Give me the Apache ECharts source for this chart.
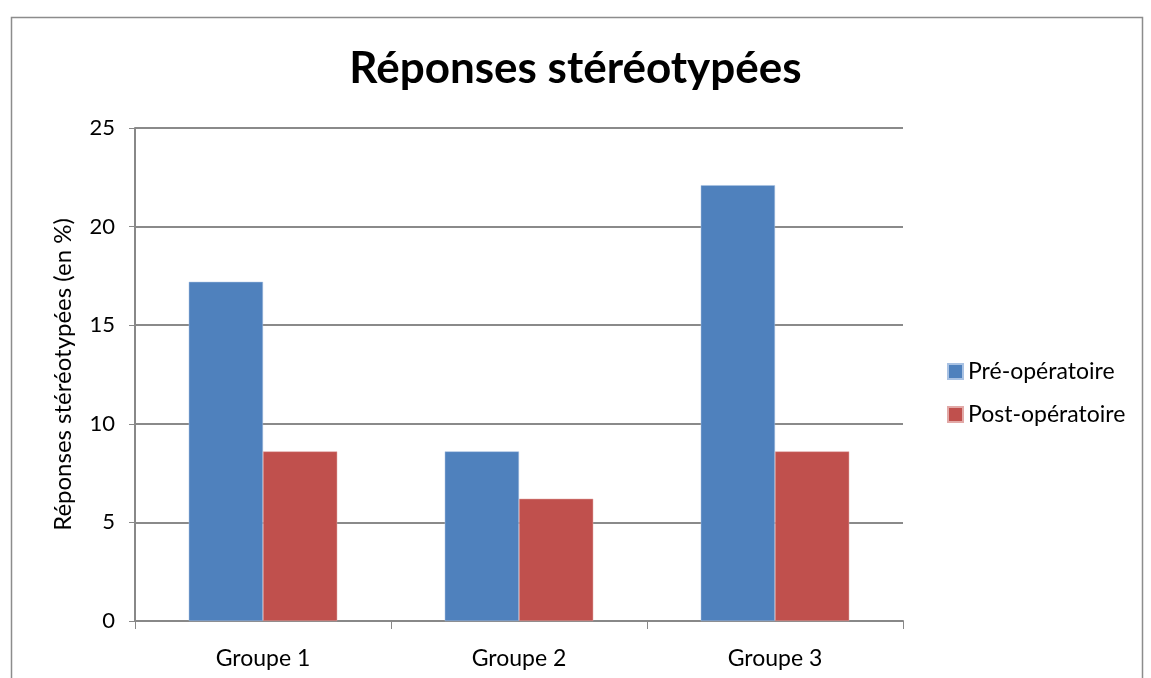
<!DOCTYPE html>
<html>
<head>
<meta charset="utf-8">
<title>Réponses stéréotypées</title>
<script src="https://cdn.jsdelivr.net/npm/echarts@6/dist/echarts.min.js"></script>
<style>
  html, body { margin: 0; padding: 0; background: #fff; }
  #chart { width: 1151px; height: 678px; }
</style>
</head>
<body>
<div id="chart"></div>
<script>
  // données
  var groupes = ['Groupe 1', 'Groupe 2', 'Groupe 3'];
  var preOp = [17.2, 8.6, 22.1];
  var postOp = [8.6, 6.2, 8.6];
  var seriesNames = ['Pré-opératoire', 'Post-opératoire'];

  var font = 'Lato, "Open Sans", sans-serif';
  var chart = echarts.init(document.getElementById('chart'));

  var option = {
    animation: false,
    textStyle: { fontFamily: font },
    // cadre extérieur du graphique
    graphic: [{
      type: 'rect',
      shape: { x: 11.5, y: 17.5, width: 1131, height: 700 },
      style: { fill: 'none', stroke: '#8c8c8c', lineWidth: 1.5 },
      silent: true
    }],
    title: {
      text: 'Réponses stéréotypées',
      left: 'center',
      top: 42,
      textStyle: { fontFamily: font, fontSize: 44, fontWeight: 'bold', color: '#000' }
    },
    legend: {
      orient: 'vertical',
      left: 942,
      top: 355,
      itemGap: 20,
      itemWidth: 15,
      itemHeight: 15,
      icon: 'rect',
      textStyle: { fontFamily: font, fontSize: 23, color: '#000', padding: [0, 0, 0, 0] },
      data: seriesNames
    },
    grid: { left: 135, right: 248, top: 128, bottom: 57 },
    xAxis: {
      type: 'category',
      data: groupes,
      axisLine: { lineStyle: { color: '#888', width: 2 } },
      axisTick: { show: true, length: 8, alignWithLabel: false, lineStyle: { color: '#888', width: 1 } },
      axisLabel: { color: '#000', fontSize: 23, margin: 26, fontFamily: font }
    },
    yAxis: {
      type: 'value',
      min: 0,
      max: 25,
      interval: 5,
      name: 'Réponses stéréotypées (en %)',
      nameLocation: 'middle',
      nameGap: 60,
      nameRotate: 90,
      nameTextStyle: { color: '#000', fontSize: 24, fontFamily: font },
      axisLine: { show: true, lineStyle: { color: '#888', width: 2 } },
      axisTick: { show: true, length: 6, lineStyle: { color: '#888', width: 1 } },
      axisLabel: { color: '#000', fontSize: 22, margin: 20, fontFamily: font },
      splitLine: { lineStyle: { color: '#8a8a8a', width: 2 } }
    },
    series: [
      {
        name: seriesNames[0],
        type: 'bar',
        data: preOp,
        barGap: '0%',
        barCategoryGap: '42%',
        itemStyle: { color: '#4f81bd', borderColor: '#a9c2e3', borderWidth: 0.5 }
      },
      {
        name: seriesNames[1],
        type: 'bar',
        data: postOp,
        itemStyle: { color: '#c0504d', borderColor: '#e2a9a7', borderWidth: 0.5 }
      }
    ]
  };

  chart.setOption(option);
</script>
</body>
</html>
